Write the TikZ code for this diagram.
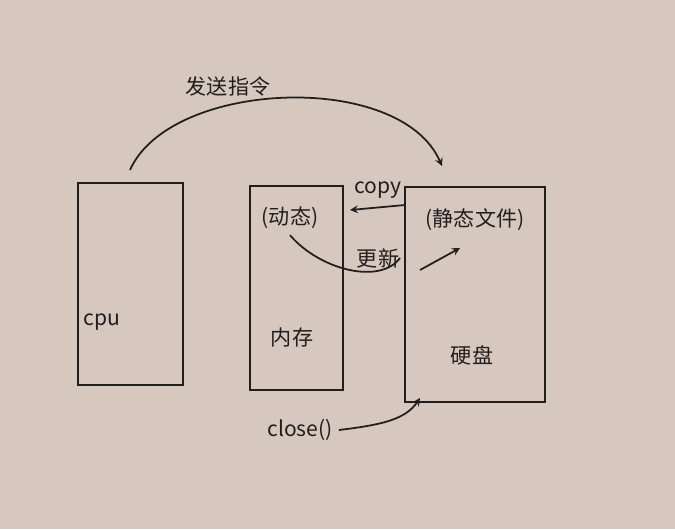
\documentclass[tikz,border=0pt]{standalone}
\usepackage{fontspec}
\newfontfamily\cjk{Noto Sans CJK SC}
\usetikzlibrary{positioning}
\definecolor{paper}{RGB}{214,200,190}
\definecolor{ink}{RGB}{35,30,30}
\tikzset{
	box/.style={draw=ink, line width=1.2pt},
	lbl/.style={text=ink, font=\cjk\large},
	hand/.style={draw=ink, line width=1pt, ->, >=stealth},
}
\begin{document}
\begin{tikzpicture}[x=0.02cm, y=-0.02cm]
\fill[paper] (0,0) rectangle (675,529);
\useasboundingbox (0,0) rectangle (675,529);

% boxes
\draw[box] (78,183) rectangle (183,385);
\draw[box] (250,186) rectangle (343,390);
\draw[box] (405,187) rectangle (545,402);

\node (cpu) [lbl] at (102,322) {cpu};
\node (mem) [lbl] at (292,337) {内存};
\node (disk) [lbl] at (472,355) {硬盘};
\node (dyn) [lbl] at (290,218) {(动态)};
\node (stat) [lbl] at (475,220) {(静态文件)};
\node (copy) [lbl] at (378,190) {copy};
\node (upd) [lbl] at (378,258) {更新};
\node (send) [lbl] at (228,86) {发送指令};
\node (close) [lbl] at (300,430) {close()};

\coordinate (cputop) at (130,170);
\coordinate (disktop) at (442,166);
\coordinate (cpstart) at (405,205);
\coordinate (cpend) at (350,210);
\coordinate (upstart) at (420,270);
\coordinate (upend) at (460,248);
\coordinate (clend) at (420,398);

\draw[hand] (cputop) .. controls (170,80) and (400,70) .. (disktop);
\draw[hand] (cpstart) -- (cpend);
\draw[line width=1pt, ink] (dyn.south) .. controls (320,270) and (380,285) .. (400,258);
\draw[hand] (upstart) -- (upend);
\draw[hand] (close.east) .. controls (380,425) and (405,420) .. (clend);
\end{tikzpicture}
\end{document}
